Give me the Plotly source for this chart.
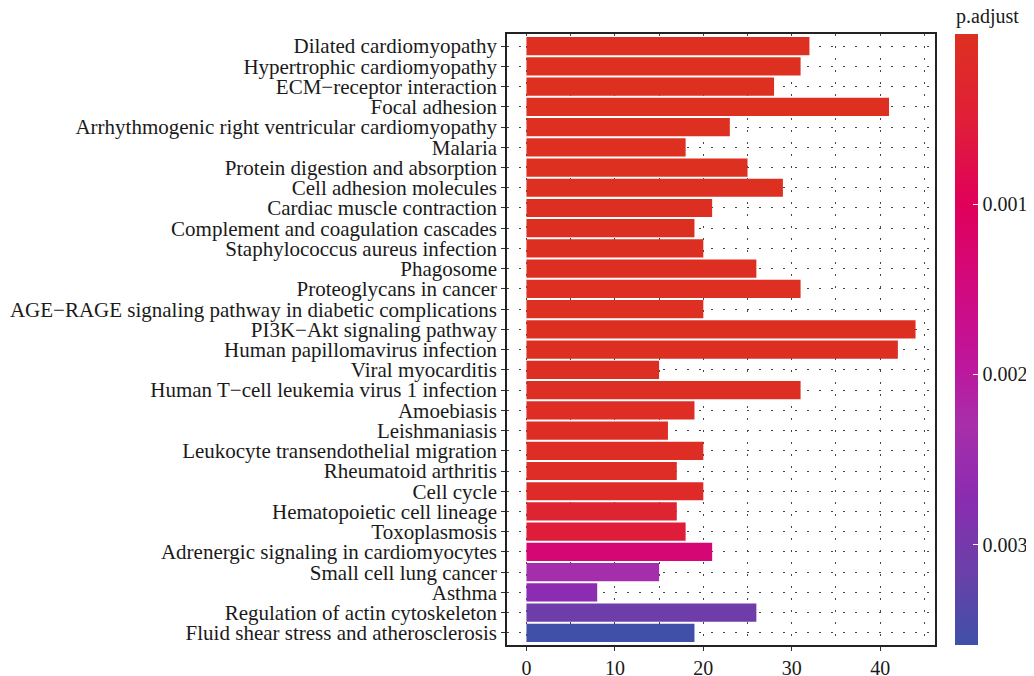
import plotly.graph_objects as go

categories = [
    "Dilated cardiomyopathy",
    "Hypertrophic cardiomyopathy",
    "ECM−receptor interaction",
    "Focal adhesion",
    "Arrhythmogenic right ventricular cardiomyopathy",
    "Malaria",
    "Protein digestion and absorption",
    "Cell adhesion molecules",
    "Cardiac muscle contraction",
    "Complement and coagulation cascades",
    "Staphylococcus aureus infection",
    "Phagosome",
    "Proteoglycans in cancer",
    "AGE−RAGE signaling pathway in diabetic complications",
    "PI3K−Akt signaling pathway",
    "Human papillomavirus infection",
    "Viral myocarditis",
    "Human T−cell leukemia virus 1 infection",
    "Amoebiasis",
    "Leishmaniasis",
    "Leukocyte transendothelial migration",
    "Rheumatoid arthritis",
    "Cell cycle",
    "Hematopoietic cell lineage",
    "Toxoplasmosis",
    "Adrenergic signaling in cardiomyocytes",
    "Small cell lung cancer",
    "Asthma",
    "Regulation of actin cytoskeleton",
    "Fluid shear stress and atherosclerosis",
]

counts = [32, 31, 28, 41, 23, 18, 25, 29, 21, 19, 20, 26, 31, 20, 44,
          42, 15, 31, 19, 16, 20, 17, 20, 17, 18, 21, 15, 8, 26, 19]

p_adjust = [0.000001, 0.000002, 0.000003, 0.000004, 0.000006, 0.000008,
            0.00001, 0.000012, 0.000015, 0.00002, 0.000025, 0.00003,
            0.000035, 0.00004, 0.000045, 0.00005, 0.00006, 0.00007,
            0.00008, 0.00009, 0.0001, 0.00012, 0.00015, 0.00035,
            0.00055, 0.00135, 0.00235, 0.0027, 0.0031, 0.00359]

x_ticks = [0, 10, 20, 30, 40]
cbar_ticks = [0.001, 0.002, 0.003]
cbar_labels = ["0.001", "0.002", "0.003"]

P_MAX = 0.00359

FONT = "Liberation Serif"
TXT = "#1a1a1a"

# colour stops (position 0 = largest p at bottom, 1 = smallest p at top)
scale = [
    [0.00, "#4050A8"],
    [0.12, "#6A40A8"],
    [0.24, "#8A2CB0"],
    [0.36, "#A82EAA"],
    [0.46, "#BE169C"],
    [0.58, "#D00A80"],
    [0.72, "#E0005A"],
    [0.86, "#E01F38"],
    [1.00, "#DD3020"],
]

neg_p = [-v for v in p_adjust]

fig = go.Figure()
fig.add_trace(go.Bar(
    x=counts,
    y=categories,
    orientation="h",
    width=0.9,
    marker=dict(
        color=neg_p,
        colorscale=scale,
        cmin=-P_MAX,
        cmax=0,
        line=dict(width=0),
        showscale=True,
        colorbar=dict(
            tickvals=[-t for t in cbar_ticks],
            ticktext=cbar_labels,
            tickfont=dict(family=FONT, size=20, color=TXT),
            ticks="inside",
            ticklen=5,
            tickcolor="white",
            thickness=23,
            len=1.0,
            lenmode="fraction",
            x=1.047,
            xanchor="left",
            y=0,
            yanchor="bottom",
            outlinewidth=0,
            xpad=0,
            ypad=0,
        ),
    ),
    hovertemplate="%{y}: %{x}<extra></extra>",
))

fig.add_annotation(
    text="p.adjust",
    xref="paper", yref="paper",
    x=1.045, y=1,
    xanchor="left", yanchor="bottom",
    yshift=4,
    showarrow=False,
    font=dict(family=FONT, size=20, color=TXT),
)

# page body has an 8px margin, so the figure is 8px smaller than the window
fig.update_layout(
    width=1026,
    height=668,
    margin=dict(l=499, r=99, t=26, b=31, autoexpand=False),
    paper_bgcolor="white",
    plot_bgcolor="white",
    font=dict(family=FONT, size=20, color=TXT),
    showlegend=False,
    bargap=0.1,
)

fig.update_xaxes(
    range=[-2.2, 46.2],
    tickvals=x_ticks,
    ticks="outside",
    ticklen=4,
    tickcolor="#333",
    tickfont=dict(family=FONT, size=20, color=TXT),
    showgrid=True,
    gridcolor="#444",
    gridwidth=1,
    griddash="2px,10px",
    minor=dict(dtick=5, showgrid=True, gridcolor="#444", gridwidth=1, griddash="2px,10px"),
    showline=True,
    linecolor="#222",
    linewidth=1.5,
    mirror=True,
    zeroline=False,
    automargin=False,
)

fig.update_yaxes(
    categoryorder="array",
    categoryarray=categories,
    tickmode="array",
    tickvals=categories,
    range=[len(categories) - 0.4, -0.6],
    ticks="outside",
    ticklen=4,
    tickcolor="#333",
    tickfont=dict(family=FONT, size=21, color=TXT),
    showgrid=True,
    gridcolor="#444",
    gridwidth=1,
    griddash="2px,10px",
    showline=True,
    linecolor="#222",
    linewidth=1.5,
    mirror=True,
    automargin=False,
)

fig.write_html("out.html")
